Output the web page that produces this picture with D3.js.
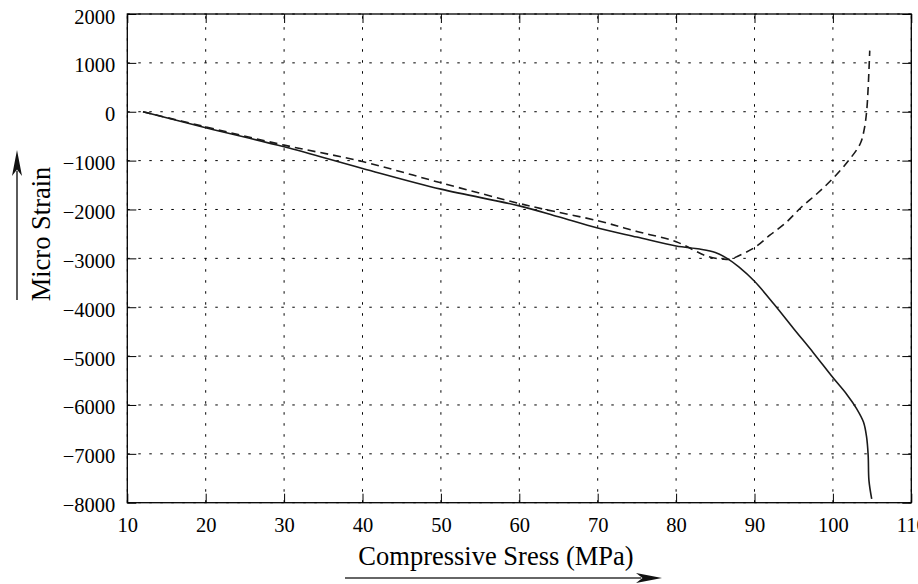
<!DOCTYPE html>
<html>
<head>
<meta charset="utf-8">
<script src="https://cdn.jsdelivr.net/npm/d3@7"></script>
<style>
  body { margin: 0; background: #fff; }
  svg { display: block; font-family: "Liberation Serif", "Times New Roman", serif; }
  .axis path { display: none; }
  .axis line { stroke: #000; stroke-width: 1; }
  .axis text { font-size: 20.5px; fill: #000; font-family: "Liberation Serif", "Times New Roman", serif; }
</style>
</head>
<body>
<svg width="918" height="584"></svg>
<script>
// axis ticks
var xTicks = [10, 20, 30, 40, 50, 60, 70, 80, 90, 100, 110]
var yTicks = [2000, 1000, 0, -1000, -2000, -3000, -4000, -5000, -6000, -7000, -8000]

// solid curve
var solidStress = [12, 20, 30, 40, 50, 60, 65, 70, 75, 80, 83, 85, 86.5, 88, 90, 92.5, 95, 97.5, 100, 101.8, 103, 103.9, 104.3, 104.5, 104.6, 104.95]
var solidStrain = [0, -328, -717, -1160, -1584, -1926, -2150, -2380, -2565, -2746, -2810, -2880, -3000, -3176, -3470, -3940, -4440, -4930, -5440, -5790, -6070, -6350, -6660, -7035, -7547, -7922]

// dashed curve
var dashStress = [12, 20, 30, 40, 50, 60, 63, 70, 75, 80, 84, 86, 87, 88, 90, 92, 94, 96, 98, 100, 102, 103.5, 104, 104.3, 104.5, 104.7]
var dashStrain = [0, -310, -683, -1020, -1455, -1877, -1990, -2230, -2450, -2660, -2960, -3015, -3015, -2945, -2780, -2520, -2270, -1950, -1673, -1365, -1000, -650, -355, 0, 500, 1250]

var svg = d3.select('svg'),
	pLeft = 127.3, pRight = 911.3, pTop = 14, pBottom = 502.7

var x = d3.scaleLinear().domain([10, 110]).range([pLeft, pRight])
var y = d3.scaleLinear().domain([-8000, 2000]).range([pBottom, pTop])

// grid
var grid = svg.append('g')
	.attr('stroke', '#000')
	.attr('stroke-width', 1)
	.attr('stroke-dasharray', '2.5,8.5')

grid.selectAll('.vg').data(xTicks).enter().append('line')
	.attr('x1', function(d) { return x(d) }).attr('x2', function(d) { return x(d) })
	.attr('y1', pBottom).attr('y2', pTop)

grid.selectAll('.hg').data(yTicks).enter().append('line')
	.attr('y1', function(d) { return y(d) }).attr('y2', function(d) { return y(d) })
	.attr('x1', pLeft).attr('x2', pRight)

// axes with inward ticks
var fmt = d3.format('d')

svg.append('g').attr('class', 'axis')
	.attr('transform', 'translate(' + pLeft + ',0)')
	.call(d3.axisLeft(y).tickValues(yTicks).tickSize(-9).tickPadding(12).tickFormat(fmt))
	.selectAll('text').attr('dy', '0.44em')

svg.append('g').attr('class', 'axis')
	.attr('transform', 'translate(0,' + pBottom + ')')
	.call(d3.axisBottom(x).tickValues(xTicks).tickSize(-9).tickPadding(14.5).tickFormat(fmt))

svg.append('g').attr('class', 'axis')
	.attr('transform', 'translate(' + pRight + ',0)')
	.call(d3.axisRight(y).tickValues(yTicks).tickSize(-9).tickFormat(''))

svg.append('g').attr('class', 'axis')
	.attr('transform', 'translate(0,' + pTop + ')')
	.call(d3.axisTop(x).tickValues(xTicks).tickSize(-9).tickFormat(''))

// frame
svg.append('rect')
	.attr('x', pLeft).attr('y', pTop)
	.attr('width', pRight - pLeft).attr('height', pBottom - pTop)
	.attr('fill', 'none').attr('stroke', '#000').attr('stroke-width', 1.3)

// curves
var line = d3.line()
	.x(function(d) { return x(d[0]) })
	.y(function(d) { return y(d[1]) })
	.curve(d3.curveCatmullRom.alpha(0.5))

svg.append('path')
	.datum(d3.zip(solidStress, solidStrain))
	.attr('d', line)
	.attr('fill', 'none').attr('stroke', '#1a1a1a').attr('stroke-width', 1.6)

svg.append('path')
	.datum(d3.zip(dashStress, dashStrain))
	.attr('d', line)
	.attr('fill', 'none').attr('stroke', '#1a1a1a').attr('stroke-width', 1.6)
	.attr('stroke-dasharray', '8,5')

// axis titles
svg.append('text')
	.attr('x', 496).attr('y', 565)
	.attr('text-anchor', 'middle')
	.attr('font-size', 26.5)
	.text('Compressive Sress (MPa)')

svg.append('text')
	.attr('transform', 'translate(50,234) rotate(-90)')
	.attr('text-anchor', 'middle')
	.attr('font-size', 26.5)
	.text('Micro Strain')

// arrows
function arrow(x1, y1, x2, y2) {
	var ang = Math.atan2(y2 - y1, x2 - x1),
		len = 26, half = 5
	svg.append('line')
		.attr('x1', x1).attr('y1', y1)
		.attr('x2', x2 - Math.cos(ang) * len * 0.8).attr('y2', y2 - Math.sin(ang) * len * 0.8)
		.attr('stroke', '#333').attr('stroke-width', 1.6)
	var bx = x2 - Math.cos(ang) * len, by = y2 - Math.sin(ang) * len,
		nx = -Math.sin(ang) * half, ny = Math.cos(ang) * half,
		mx = x2 - Math.cos(ang) * len * 0.75, my = y2 - Math.sin(ang) * len * 0.75
	svg.append('path')
		.attr('d', 'M' + x2 + ',' + y2 + 'L' + (bx + nx) + ',' + (by + ny) +
			'L' + mx + ',' + my + 'L' + (bx - nx) + ',' + (by - ny) + 'Z')
		.attr('fill', '#111')
}

arrow(17, 300, 17, 150)
arrow(345, 578, 662, 578)
</script>
</body>
</html>
